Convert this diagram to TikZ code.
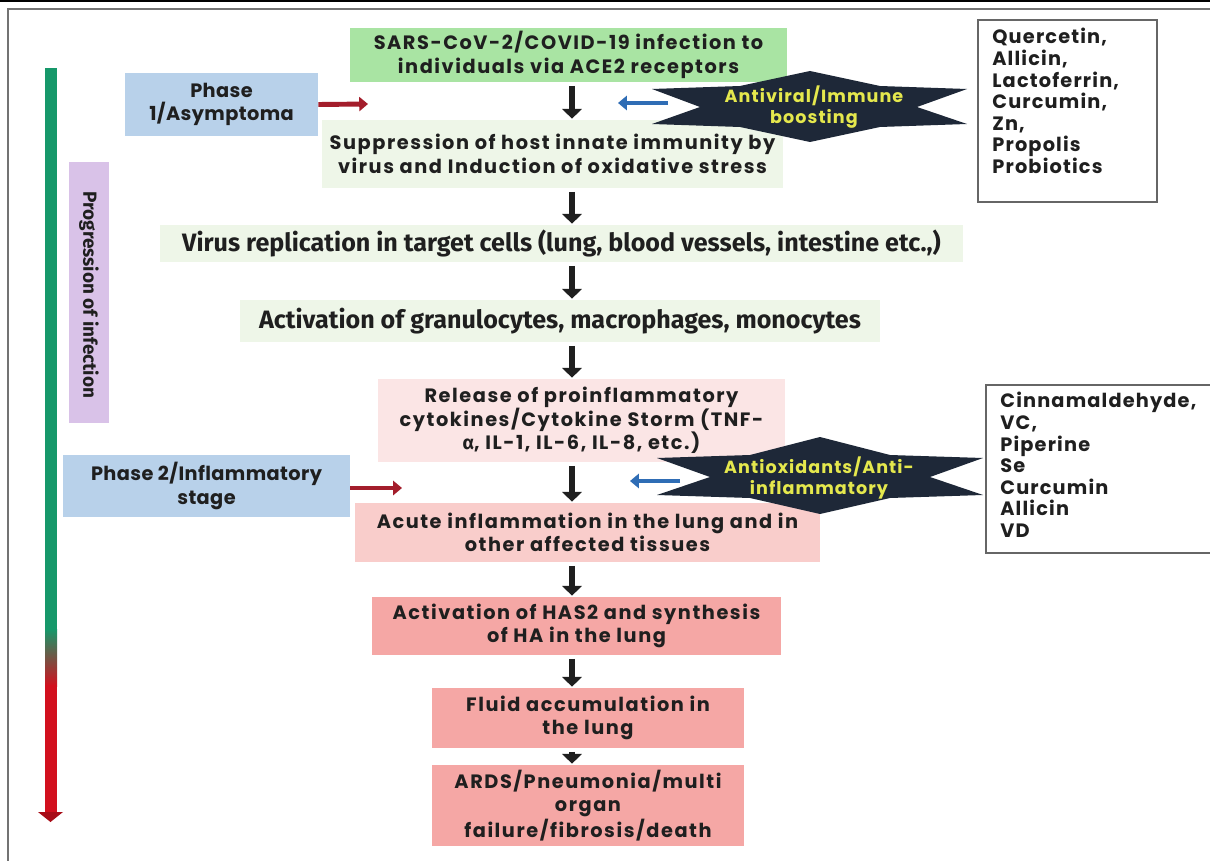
\documentclass[tikz,border=0pt]{standalone}
\usepackage{fontspec}
\setmainfont{Poppins}
\newfontfamily\condfont{Fira Sans}
\newfontfamily\greekfont{Fira Sans}
\usetikzlibrary{arrows.meta}
\definecolor{txt}{HTML}{1F1F1F}
\definecolor{sarsgreen}{HTML}{A9E4A3}
\definecolor{phaseblue}{HTML}{B8D1EA}
\definecolor{palegreen}{HTML}{EEF6E8}
\definecolor{palepink}{HTML}{FBE5E5}
\definecolor{midpink}{HTML}{F9CDCB}
\definecolor{salmon}{HTML}{F5A7A5}
\definecolor{lavender}{HTML}{D9C2E8}
\definecolor{navy}{HTML}{1E2838}
\definecolor{ylw}{HTML}{E5E84D}
\definecolor{darkred}{HTML}{A31D2B}
\definecolor{arrowblue}{HTML}{2F6DB5}
\definecolor{bargreen}{HTML}{16986A}
\definecolor{barred}{HTML}{D2101E}
\tikzset{
  box/.style={rectangle, inner sep=2pt, align=center, text=txt,
    font=\bfseries\fontsize{11}{13.4}\selectfont\addfontfeature{LetterSpace=8}},
  phasebox/.style={box, font=\bfseries\fontsize{11}{13.4}\selectfont\addfontfeature{LetterSpace=2}},
  condbox/.style={box, font=\condfont\bfseries\fontsize{14.3}{16}\selectfont},
  listbox/.style={rectangle, draw=black!60, line width=0.8pt, fill=white},
  listtext/.style={inner sep=0pt, align=left, text=txt,
    font=\bfseries\fontsize{11}{12.3}\selectfont\addfontfeature{LetterSpace=6}},
  startext/.style={inner sep=0pt, align=center, text=ylw,
    font=\bfseries\fontsize{10}{11.8}\selectfont\addfontfeature{LetterSpace=6}},
  downarrow/.style={draw=txt, line width=3.6pt, -{Triangle[width=11pt,length=5.5pt]},
    shorten <=0.07cm, shorten >=0.02cm},
  redarrow/.style={draw=darkred, line width=2.8pt, -{Triangle[width=8pt,length=5pt]}},
  bluearrow/.style={draw=arrowblue, line width=2.8pt, -{Triangle[width=8pt,length=5pt]}},
}
\begin{document}
\begin{tikzpicture}[x=0.02cm,y=-0.02cm]
\fill[white] (0,0) rectangle (1210,861);
\useasboundingbox (0,0) rectangle (1210,861);
\clip (0,0) rectangle (1210,861);
% frame
\draw[black, line width=1.2pt] (0,1) -- (1210,1);
\draw[black!55, line width=1pt] (8,861) -- (8,9) -- (1210,9);

% progression bar
\fill[bargreen] (45,68) rectangle (57,630);
\shade[top color=bargreen, bottom color=barred] (45,629) rectangle (57,686);
\fill[barred] (45,685) rectangle (57,813);
\fill[barred!80!black] (38,812) -- (63,812) -- (50.5,822) -- cycle;

% progression label
\node[rectangle, fill=lavender, minimum width=0.8cm, minimum height=5.22cm,
  inner sep=0pt] (prog) at (89,292.5) {};
\node[rotate=-90, text=txt, font=\condfont\bfseries\fontsize{10.8}{12}\selectfont]
  (progtext) at (89,295) {Progression of infection};

% main flow boxes
\node[box, fill=sarsgreen, minimum width=8.74cm, minimum height=1.08cm] (sars) at (568.5,55)
  {SARS-CoV-2/COVID-19 infection to\\individuals via ACE2 receptors};
\node[phasebox, fill=phaseblue, minimum width=3.86cm, minimum height=1.26cm] (ph1) at (221.5,104.5)
  {Phase\\1/Asymptoma};
\node[box, fill=palegreen, minimum width=9.22cm, minimum height=1.36cm] (supp) at (552.5,154)
  {Suppression of host innate immunity by\\virus and Induction of oxidative stress};
\node[condbox, fill=palegreen, minimum width=16.06cm, minimum height=0.74cm] (virus) at (561.5,243.5)
  {Virus replication in target cells (lung, blood vessels, intestine etc.,)};
\node[condbox, fill=palegreen, minimum width=12.8cm, minimum height=0.84cm] (act) at (560,321)
  {Activation of granulocytes, macrophages, monocytes};
\node[box, fill=palepink, minimum width=8.14cm, minimum height=1.66cm] (rel) at (581.5,420.5)
  {Release of proinflammatory\\cytokines/Cytokine Storm (TNF-\\{\greekfont α}, IL-1, IL-6, IL-8, etc.)};
\node[phasebox, fill=phaseblue, minimum width=5.74cm, minimum height=1.24cm] (ph2) at (206.5,486)
  {Phase 2/Inflammatory\\stage};
\node[box, fill=midpink, minimum width=9.3cm, minimum height=1.18cm] (acute) at (587.5,532.5)
  {Acute inflammation in the lung and in\\other affected tissues};
\node[box, fill=salmon, minimum width=8.18cm, minimum height=1.16cm] (has) at (576.5,626)
  {Activation of HAS2 and synthesis\\of HA in the lung};
\node[box, fill=salmon, minimum width=6.24cm, minimum height=1.2cm] (fluid) at (588,718)
  {Fluid accumulation in\\the lung};
\node[box, fill=salmon, minimum width=6.24cm, minimum height=1.62cm] (ards) at (588,805.5)
  {ARDS/Pneumonia/multi\\organ\\failure/fibrosis/death};

% list boxes
\node[listbox, minimum width=3.58cm, minimum height=3.64cm] (qbox) at (1067.5,111) {};
\node[listtext, anchor=north west] (qtext) at (992,28)
  {Quercetin,\\Allicin,\\Lactoferrin,\\Curcumin,\\Zn,\\Propolis\\Probiotics};
\node[listbox, minimum width=4.9cm, minimum height=3.36cm] (cbox) at (1108.5,469) {};
\node[listtext, anchor=north west] (ctext) at (1000,392)
  {Cinnamaldehyde,\\VC,\\Piperine\\Se\\Curcumin\\Allicin\\VD};

% star banners
\fill[navy] (652,89) -- (740,86) -- (810,71) -- (880,86) -- (967,89) -- (917,107)
  -- (967,124) -- (880,127) -- (810,142) -- (740,127) -- (652,124) -- (700,107) -- cycle;
\node[startext] (star1) at (814,107) {Antiviral/Immune\\boosting};
\fill[navy] (657,458) -- (750,455) -- (820,437) -- (890,455) -- (983,458) -- (930,477)
  -- (983,495) -- (890,498) -- (820,514) -- (750,498) -- (657,495) -- (710,477) -- cycle;
\node[startext] (star2) at (819,478) {Antioxidants/Anti-\\inflammatory};

% connectors
\coordinate (ax) at (572,0);
\draw[downarrow] (sars.south -| ax) -- (supp.north -| ax);
\draw[downarrow] (supp.south -| ax) -- (virus.north -| ax);
\draw[downarrow] (virus.south -| ax) -- (act.north -| ax);
\draw[downarrow] (act.south -| ax) -- (rel.north -| ax);
\draw[downarrow] (rel.south -| ax) -- (acute.north -| ax);
\draw[downarrow] (acute.south -| ax) -- (has.north -| ax);
\draw[downarrow] (has.south -| ax) -- (fluid.north -| ax);
\draw[downarrow] (fluid.south -| ax) -- (ards.north -| ax);

\coordinate (r1) at (368,104);
\coordinate (r2) at (402,488);
\draw[redarrow] (ph1.east) -- (r1);
\draw[redarrow] (ph2.east |- r2) -- (r2);

\coordinate (b1s) at (668,103);
\coordinate (b1e) at (618,103);
\coordinate (b2s) at (680,481);
\coordinate (b2e) at (630,481);
\draw[bluearrow] (b1s) -- (b1e);
\draw[bluearrow] (b2s) -- (b2e);
\end{tikzpicture}
\end{document}
